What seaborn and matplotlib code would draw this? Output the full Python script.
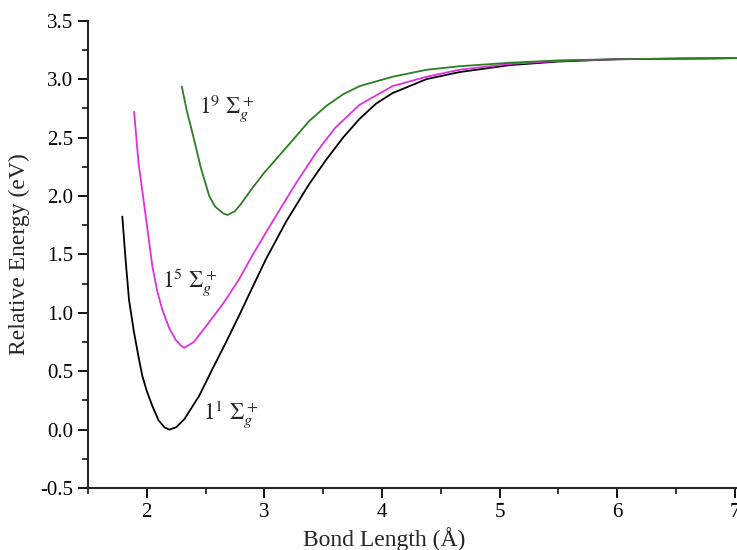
import matplotlib
matplotlib.use("Agg")
import matplotlib.pyplot as plt
import seaborn as sns
import pandas as pd
from matplotlib.ticker import MultipleLocator, FormatStrFormatter

# ---- data ----
x_s1 = [1.792, 1.82, 1.849, 1.89, 1.934, 1.962, 2.00, 2.048, 2.10, 2.15, 2.19,
        2.25, 2.32, 2.446, 2.559, 2.67, 2.787, 2.90, 3.014, 3.185, 3.38, 3.526,
        3.67, 3.81, 3.95, 4.09, 4.38, 4.66, 5.09, 5.5, 6.0, 6.5, 7.05]
y_s1 = [1.823, 1.45, 1.11, 0.84, 0.60, 0.46, 0.33, 0.20, 0.08, 0.02, 0.0,
        0.02, 0.09, 0.29, 0.52, 0.74, 0.98, 1.22, 1.46, 1.78, 2.10, 2.31,
        2.50, 2.66, 2.79, 2.88, 3.00, 3.06, 3.12, 3.15, 3.17, 3.175, 3.18]

x_s5 = [1.892, 1.93, 1.977, 2.048, 2.09, 2.133, 2.19, 2.247, 2.29, 2.318,
        2.40, 2.531, 2.65, 2.787, 2.90, 3.043, 3.27, 3.44, 3.60, 3.81, 4.09,
        4.38, 4.66, 5.09, 5.5, 6.0, 6.5, 7.05]
y_s5 = [2.72, 2.28, 1.93, 1.395, 1.18, 1.024, 0.87, 0.767, 0.72, 0.70,
        0.75, 0.92, 1.08, 1.29, 1.495, 1.737, 2.11, 2.37, 2.58, 2.78, 2.94,
        3.02, 3.08, 3.13, 3.155, 3.17, 3.175, 3.18]

x_s9 = [2.298, 2.34, 2.389, 2.46, 2.531, 2.58, 2.616, 2.65, 2.687, 2.75, 2.80,
        2.90, 3.00, 3.20, 3.38, 3.526, 3.67, 3.81, 4.09, 4.38, 4.66, 5.09, 5.5,
        6.0, 6.5, 7.05]
y_s9 = [2.936, 2.73, 2.537, 2.24, 2.00, 1.91, 1.88, 1.85, 1.837, 1.87, 1.93,
        2.07, 2.20, 2.43, 2.64, 2.77, 2.87, 2.94, 3.02, 3.08, 3.11, 3.14, 3.16,
        3.17, 3.175, 3.18]

labels = [r"$1^1\ \Sigma_g^+$", r"$1^5\ \Sigma_g^+$", r"$1^9\ \Sigma_g^+$"]
colors = ["#000000", "#e030e0", "#2a7f22"]

sns.set_style("ticks")
plt.rcParams["font.family"] = ["Liberation Serif", "DejaVu Serif"]
plt.rcParams["mathtext.fontset"] = "stix"

fig = plt.figure(figsize=(7.37, 5.5), dpi=100)
ax = fig.add_axes([0.1194, 0.1127, 0.8806, 0.8497])

series = [(x_s1, y_s1), (x_s5, y_s5), (x_s9, y_s9)]
for (xs, ys), c in zip(series, colors):
    df = pd.DataFrame({"x": xs, "y": ys})
    sns.lineplot(data=df, x="x", y="y", ax=ax, color=c, linewidth=1.3, sort=False)

ax.set_xlim(1.5, 7.02)
ax.set_ylim(-0.5, 3.5)
ax.xaxis.set_major_locator(MultipleLocator(1))
ax.xaxis.set_minor_locator(MultipleLocator(0.5))
ax.yaxis.set_major_locator(MultipleLocator(0.5))
ax.yaxis.set_minor_locator(MultipleLocator(0.25))
ax.yaxis.set_major_formatter(FormatStrFormatter("%.1f"))
ax.tick_params(which="major", length=7, width=1.3, direction="out", labelsize=15, colors="black")
ax.tick_params(which="minor", length=4, width=1.3, direction="out")
for s in ["top", "right"]:
    ax.spines[s].set_visible(False)
for s in ["left", "bottom"]:
    ax.spines[s].set_linewidth(1.5)
ax.set_xlabel("Bond Length (Å)", fontsize=17)
ax.set_ylabel("Relative Energy (eV)", fontsize=17)
ax.xaxis.set_label_coords(0.456, -0.083)
ax.yaxis.set_label_coords(-0.09, 0.5)

ax.text(2.474, 0.088, labels[0], fontsize=16.5, ha="left", va="baseline")
ax.text(2.128, 1.21, labels[1], fontsize=16.5, ha="left", va="baseline")
ax.text(2.446, 2.708, labels[2], fontsize=16.5, ha="left", va="baseline")

fig.savefig("out.png", dpi=100)
